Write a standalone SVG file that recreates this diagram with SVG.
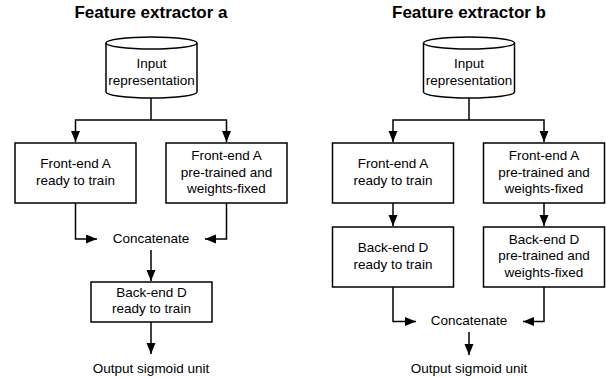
<svg xmlns="http://www.w3.org/2000/svg" width="606" height="378" viewBox="0 0 606 378">
<defs>
<marker id="arr" markerUnits="userSpaceOnUse" markerWidth="12" markerHeight="10" refX="11" refY="4.5" orient="auto">
<path d="M0,0 L11,4.5 L0,9 Z" fill="#000"/>
</marker>
<style>
text{font-family:"Liberation Sans",Arial,sans-serif;font-size:13.5px;fill:#000;text-anchor:middle}
.title{font-weight:bold;font-size:17px}
.box{fill:#fff;stroke:#000;stroke-width:1.5}
.conn path{fill:none;stroke:#000;stroke-width:1.5}
.conn path.a{marker-end:url(#arr)}
</style>
</defs>
<rect width="606" height="378" fill="#fff"/>
<text class="title" x="151" y="18">Feature extractor a</text>
<text class="title" x="469" y="18">Feature extractor b</text>

<g class="conn" id="connectors">
<path d="M151,98 V120"/>
<path class="a" d="M151,120 H75.5 V142"/>
<path class="a" d="M151,120 H226.5 V142"/>
<path class="a" d="M75.5,203 V239 H97"/>
<path class="a" d="M226.5,203 V239 H205"/>
<path class="a" d="M151,250 V281"/>
<path class="a" d="M151,322 V354"/>
<path d="M469,98 V120"/>
<path class="a" d="M469,120 H393 V142"/>
<path class="a" d="M469,120 H544 V142"/>
<path class="a" d="M393,203 V226"/>
<path class="a" d="M544,203 V226"/>
<path class="a" d="M393,287 V321.5 H416"/>
<path class="a" d="M544,287 V321.5 H523"/>
<path class="a" d="M469,332 V355"/>
</g>

<g id="a-input">
<path class="box" d="M106,43 A45.5,6 0 0 1 197,43 V92 A45.5,6 0 0 1 106,92 Z"/>
<path class="box" d="M106,43 A45.5,6 0 0 0 197,43" fill="none"/>
<text x="151.5" y="68">Input</text>
<text x="151.5" y="84.5">representation</text>
</g>
<g id="a-frontA-train">
<rect class="box" x="15" y="143" width="121" height="60"/>
<text x="75.5" y="168">Front-end A</text>
<text x="75.5" y="184.5">ready to train</text>
</g>
<g id="a-frontA-fixed">
<rect class="box" x="166" y="143" width="121" height="60"/>
<text x="226.5" y="160">Front-end A</text>
<text x="226.5" y="176.5">pre-trained and</text>
<text x="226.5" y="193">weights-fixed</text>
</g>
<g id="a-concat"><text x="151" y="243">Concatenate</text></g>
<g id="a-backD">
<rect class="box" x="91" y="282" width="121" height="40"/>
<text x="151.5" y="296.5">Back-end D</text>
<text x="151.5" y="313">ready to train</text>
</g>
<g id="a-output"><text x="151" y="373">Output sigmoid unit</text></g>

<g id="b-input">
<path class="box" d="M423.5,43 A45.5,6 0 0 1 514.5,43 V92 A45.5,6 0 0 1 423.5,92 Z"/>
<path class="box" d="M423.5,43 A45.5,6 0 0 0 514.5,43" fill="none"/>
<text x="469" y="68">Input</text>
<text x="469" y="84.5">representation</text>
</g>
<g id="b-frontA-train">
<rect class="box" x="332.5" y="143" width="121" height="60"/>
<text x="393" y="168">Front-end A</text>
<text x="393" y="184.5">ready to train</text>
</g>
<g id="b-frontA-fixed">
<rect class="box" x="483.5" y="143" width="121" height="60"/>
<text x="544" y="160">Front-end A</text>
<text x="544" y="176.5">pre-trained and</text>
<text x="544" y="193">weights-fixed</text>
</g>
<g id="b-backD-train">
<rect class="box" x="332.5" y="227" width="121" height="60"/>
<text x="393" y="252">Back-end D</text>
<text x="393" y="268.5">ready to train</text>
</g>
<g id="b-backD-fixed">
<rect class="box" x="483.5" y="227" width="121" height="60"/>
<text x="544" y="243.5">Back-end D</text>
<text x="544" y="260">pre-trained and</text>
<text x="544" y="276.5">weights-fixed</text>
</g>
<g id="b-concat"><text x="469" y="325">Concatenate</text></g>
<g id="b-output"><text x="469" y="373">Output sigmoid unit</text></g>
</svg>
